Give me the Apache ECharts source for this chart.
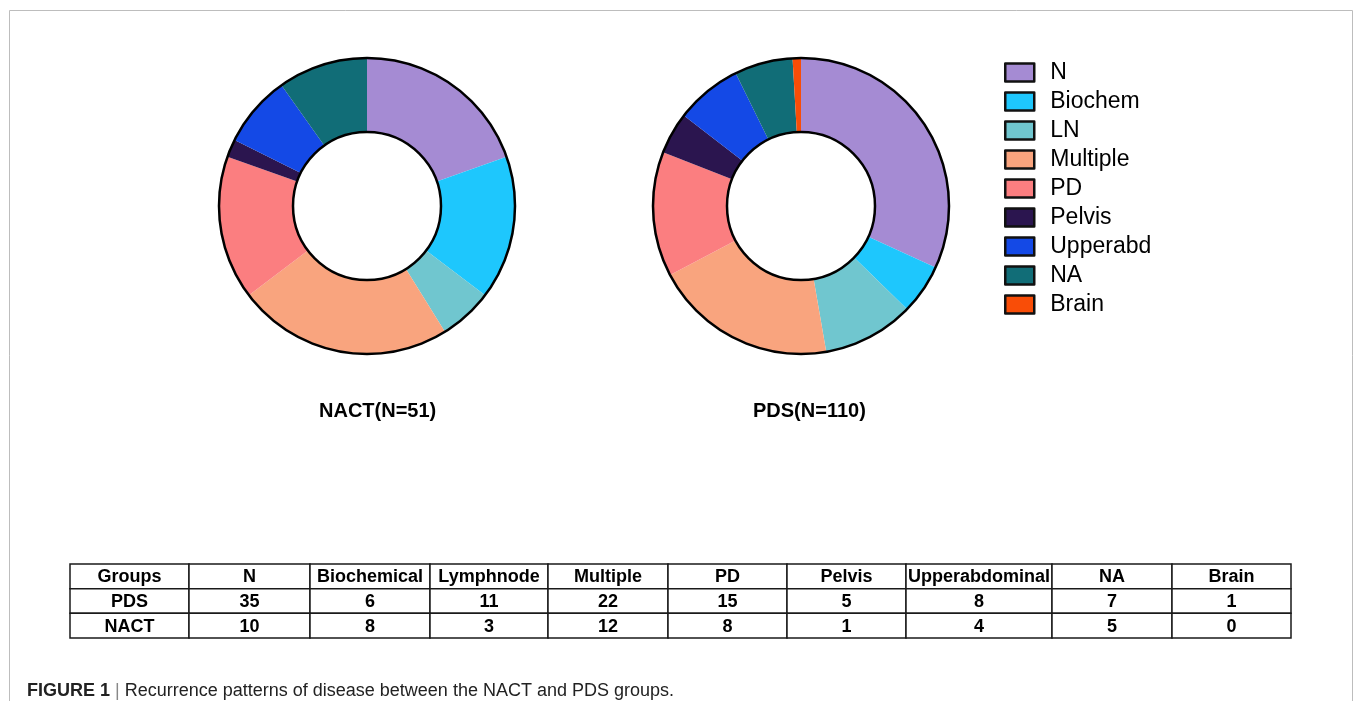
<!DOCTYPE html>
<html><head><meta charset="utf-8">
<script src="https://cdn.jsdelivr.net/npm/echarts@6/dist/echarts.min.js"></script>
<style>html,body{margin:0;padding:0;background:#fff}#c{width:1356px;height:701px}</style>
</head><body><div id="c"></div>
<script>
// ---- data ----
const legendNames = ['N','Biochem','LN','Multiple','PD','Pelvis','Upperabd','NA','Brain'];
const tableHeaders = ['N','Biochemical','Lymphnode','Multiple','PD','Pelvis','Upperabdominal','NA','Brain'];
const groupHeader = 'Groups';
const groups = ['PDS','NACT'];
const pdsValues = [35,6,11,22,15,5,8,7,1];
const nactValues = [10,8,3,12,8,1,4,5,0];
const pieTitles = ['NACT(N=51)','PDS(N=110)'];
const captionBold = 'FIGURE 1';
const captionText = 'Recurrence patterns of disease between the NACT and PDS groups.';

// ---- styles / layout ----
const colors = ['#A58BD3','#1EC7FD','#70C6CF','#F9A47E','#FB7E80','#2B154F','#1449E6','#116D77','#F94D07'];
const colWidths = [119,121,120,118,120,119,119,146,120,119];
const edges = [0]; colWidths.forEach(w => edges.push(edges[edges.length-1] + w));
const FONT = '"Liberation Sans", Arial, Helvetica, sans-serif';

const tableRows = [
  [groupHeader].concat(tableHeaders),
  [groups[0]].concat(pdsValues),
  [groups[1]].concat(nactValues)
];
const cellData = [];
tableRows.forEach((row, r) => row.forEach((_, c) => cellData.push([c, r])));

const mk = vals => legendNames.map((n, i) => ({name: n, value: vals[i]}));

const pieBase = {
  type: 'pie', radius: [74, 148], startAngle: 90, clockwise: true,
  label: {show: false}, labelLine: {show: false},
  itemStyle: {borderWidth: 0}, emphasis: {disabled: true}, animation: false
};
const ringBase = {
  type: 'pie', radius: [74, 148], silent: true, animation: false,
  label: {show: false}, labelLine: {show: false}, legendHoverLink: false,
  data: [{name: '__ring', value: 1}],
  itemStyle: {color: 'rgba(0,0,0,0)', borderColor: '#000', borderWidth: 2.5},
  emphasis: {disabled: true}
};

const chart = echarts.init(document.getElementById('c'));
chart.setOption({
  backgroundColor: '#fff',
  animation: false,
  color: colors,
  title: [
    {text: pieTitles[0], left: 314, top: 396, textStyle: {fontFamily: FONT, fontSize: 20, fontWeight: 'bold', color: '#000'}},
    {text: pieTitles[1], left: 748, top: 396, textStyle: {fontFamily: FONT, fontSize: 20, fontWeight: 'bold', color: '#000'}},
    {text: '{b|' + captionBold + '} {s||} {r|' + captionText + '}', left: 22, top: 677,
     textStyle: {fontWeight: 'normal', rich: {
       b: {fontFamily: FONT, fontSize: 18, fontWeight: 'bold', color: '#222'},
       s: {fontFamily: FONT, fontSize: 18, fontWeight: 'normal', color: '#888'},
       r: {fontFamily: FONT, fontSize: 18, fontWeight: 'normal', color: '#222'}
     }}}
  ],
  legend: {
    orient: 'vertical', left: 1004, top: 61, padding: 0,
    data: legendNames, icon: 'rect', itemWidth: 29, itemHeight: 18, itemGap: 6,
    selectedMode: false,
    itemStyle: {borderColor: '#111', borderWidth: 2.5},
    textStyle: {fontFamily: FONT, fontSize: 23, color: '#000', padding: [0,0,0,11]}
  },
  grid: {left: 70, top: 564, width: 1221, height: 74},
  xAxis: {type: 'value', min: 0, max: edges[edges.length-1], show: false},
  yAxis: {type: 'category', data: tableRows.map(r => r[0]), inverse: true, show: false},
  graphic: [{
    type: 'polyline', silent: true,
    shape: {points: [[9.5,701],[9.5,10.5],[1352.5,10.5],[1352.5,701]]},
    style: {stroke: '#bdbdbd', lineWidth: 1, fill: null}
  }],
  series: [
    Object.assign({}, pieBase, {name: 'NACT', center: [367, 206], data: mk(nactValues)}),
    Object.assign({}, pieBase, {name: 'PDS', center: [801, 206], data: mk(pdsValues)}),
    Object.assign({}, ringBase, {center: [367, 206]}),
    Object.assign({}, ringBase, {center: [801, 206]}),
    {
      type: 'custom', silent: true, animation: false,
      data: cellData,
      renderItem: function (params, api) {
        const c = api.value(0), r = api.value(1);
        const a = api.coord([edges[c], r]), b = api.coord([edges[c+1], r]);
        const h = api.size([0, 1])[1];
        return {type: 'group', children: [
          {type: 'rect', shape: {x: a[0], y: a[1] - h/2, width: b[0] - a[0], height: h},
           style: {fill: '#fff', stroke: '#1a1a1a', lineWidth: 1.5}},
          {type: 'text', style: {x: (a[0] + b[0]) / 2, y: a[1] + 1, text: String(tableRows[r][c]),
           align: 'center', verticalAlign: 'middle',
           font: 'bold 18px ' + FONT, fill: '#000'}}
        ]};
      }
    }
  ]
});
</script>
</body></html>
